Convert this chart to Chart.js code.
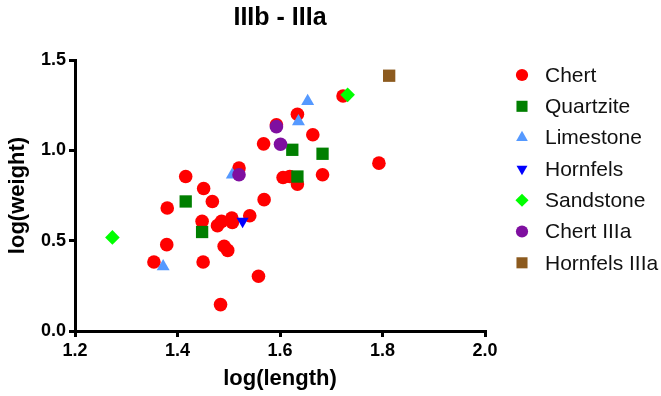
<!DOCTYPE html>
<html><head><meta charset="utf-8">
<script src="https://cdn.jsdelivr.net/npm/chart.js@4/dist/chart.umd.min.js"></script>
<style>html,body{margin:0;padding:0;background:#fff;overflow:hidden;}</style>
</head><body>
<canvas id="c" width="661" height="396" style="width:661px;height:396px;display:block"></canvas>
<script>
// ---- data ----
const seriesNames = ['Chert', 'Quartzite', 'Limestone', 'Hornfels', 'Sandstone', 'Chert IIIa', 'Hornfels IIIa'];

const chertX = [1.416, 1.451, 1.468, 1.354, 1.379, 1.380, 1.448, 1.450, 1.478, 1.486, 1.506, 1.507, 1.541, 1.569, 1.491, 1.498, 1.558, 1.484, 1.520, 1.568, 1.593, 1.606, 1.619, 1.634, 1.683, 1.793, 1.634, 1.664, 1.723];
const chertY = [0.855, 0.789, 0.717, 0.382, 0.478, 0.681, 0.607, 0.382, 0.583, 0.607, 0.625, 0.601, 0.638, 0.727, 0.469, 0.446, 0.303, 0.146, 0.902, 1.036, 1.141, 0.850, 0.855, 0.813, 0.865, 0.929, 1.200, 1.086, 1.301];

const quartziteX = [1.416, 1.448, 1.624, 1.683, 1.634];
const quartziteY = [0.717, 0.548, 1.003, 0.981, 0.855];

const limestoneX = [1.372, 1.507, 1.636, 1.654];
const limestoneY = [0.357, 0.865, 1.159, 1.272];

const hornfelsX = [1.527];
const hornfelsY = [0.607];

const sandstoneX = [1.273, 1.732];
const sandstoneY = [0.518, 1.307];

const chertIIIaX = [1.520, 1.593, 1.601];
const chertIIIaY = [0.865, 1.131, 1.034];

const hornfelsIIIaX = [1.813];
const hornfelsIIIaY = [1.413];

const xTicks = [1.2, 1.4, 1.6, 1.8, 2.0];
const yTicks = [0.0, 0.5, 1.0, 1.5];

// ---- styles ----
const FONT = '"Liberation Sans", Arial, Helvetica, sans-serif';
const colors = ['#FF0000', '#007F00', '#5599FF', '#0000FF', '#00FF00', '#7F0FA0', '#8C5A1E'];
const styles = ['circle', 'rect', 'triangle', 'triangle', 'rectRot', 'circle', 'rect'];
const rotations = [0, 0, 0, 180, 0, 0, 0];
const radii = [6.8, 8.7, 7.5, 7, 7.3, 6.8, 8.7];

const xs = [chertX, quartziteX, limestoneX, hornfelsX, sandstoneX, chertIIIaX, hornfelsIIIaX];
const ys = [chertY, quartziteY, limestoneY, hornfelsY, sandstoneY, chertIIIaY, hornfelsIIIaY];

const datasets = seriesNames.map((name, i) => ({
  label: name,
  data: xs[i].map((x, j) => ({ x: x, y: ys[i][j] })),
  backgroundColor: colors[i],
  borderColor: colors[i],
  borderWidth: 0,
  pointStyle: styles[i],
  rotation: rotations[i],
  pointRadius: radii[i],
  pointHoverRadius: radii[i],
  order: seriesNames.length - i
}));

const legendPlugin = {
  id: 'sideLegend',
  afterDraw(chart) {
    const ctx = chart.ctx;
    ctx.save();
    chart.data.datasets.forEach((ds, i) => {
      const y = 75 + i * 31.3;
      ctx.fillStyle = ds.backgroundColor;
      ctx.strokeStyle = ds.backgroundColor;
      Chart.helpers.drawPoint(ctx, { pointStyle: ds.pointStyle, rotation: ds.rotation, radius: ds.pointRadius * 0.9, borderWidth: 0 }, 522, y);
      ctx.fillStyle = '#111';
      ctx.font = '21px ' + FONT;
      ctx.textBaseline = 'middle';
      ctx.textAlign = 'left';
      ctx.fillText(ds.label, 545, y + 1);
    });
    ctx.restore();
  }
};

new Chart(document.getElementById('c'), {
  type: 'scatter',
  data: { datasets: datasets },
  options: {
    responsive: false,
    animation: false,
    devicePixelRatio: 1,
    layout: { padding: { left: 0, right: 176, top: 0, bottom: 0 } },
    plugins: {
      legend: { display: false },
      tooltip: { enabled: false },
      title: {
        display: true,
        text: 'IIIb - IIIa',
        fullSize: false,
        color: '#000',
        font: { family: FONT, size: 25, weight: 'bold' },
        padding: { top: 3, bottom: 27 }
      }
    },
    scales: {
      x: {
        type: 'linear',
        min: xTicks[0],
        max: xTicks[xTicks.length - 1],
        afterFit(s) { s.height = 65; },
        afterBuildTicks(s) { s.ticks = xTicks.map(v => ({ value: v })); },
        ticks: { color: '#000', font: { family: FONT, size: 18, weight: 'bold' }, padding: 3, callback: v => Number(v).toFixed(1), maxRotation: 0 },
        grid: { display: true, drawOnChartArea: false, drawTicks: true, tickLength: 6, color: '#000', lineWidth: 3 },
        border: { display: true, color: '#000', width: 3 },
        title: { display: true, text: 'log(length)', color: '#000', font: { family: FONT, size: 22, weight: 'bold' }, padding: { top: 0, bottom: 4 } }
      },
      y: {
        type: 'linear',
        min: yTicks[0],
        max: yTicks[yTicks.length - 1],
        afterFit(s) { s.width = 75; },
        afterBuildTicks(s) { s.ticks = yTicks.map(v => ({ value: v })); },
        ticks: { color: '#000', font: { family: FONT, size: 18, weight: 'bold' }, padding: 3, callback: v => Number(v).toFixed(1) },
        grid: { display: true, drawOnChartArea: false, drawTicks: true, tickLength: 6, color: '#000', lineWidth: 3 },
        border: { display: true, color: '#000', width: 3 },
        title: { display: true, text: 'log(weight)', color: '#000', font: { family: FONT, size: 22, weight: 'bold' }, padding: { top: 5, bottom: 0 } }
      }
    }
  },
  plugins: [legendPlugin]
});
</script>
</body></html>
